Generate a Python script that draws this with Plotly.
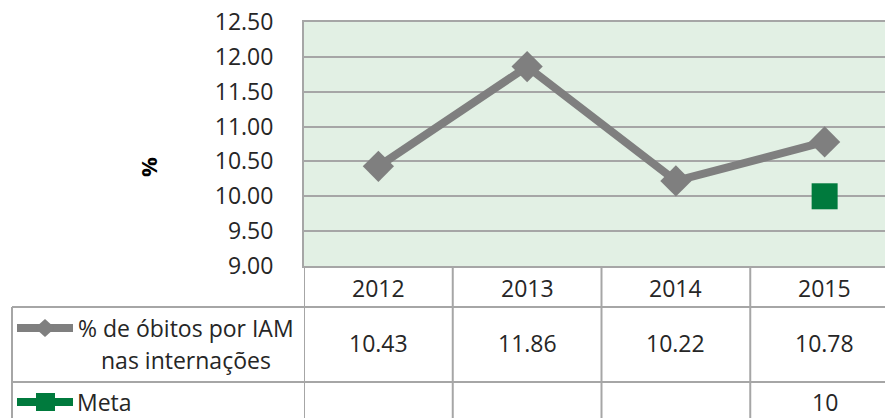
import plotly.graph_objects as go

years = ["2012", "2013", "2014", "2015"]
obitos = [10.43, 11.86, 10.22, 10.78]
meta = [None, None, None, 10]
obitos_labels = ["10.43", "11.86", "10.22", "10.78"]
meta_labels = ["", "", "", "10"]
series_names = ["% de óbitos por IAM", "nas internações"]
meta_name = "Meta"
y_ticks = [9.0, 9.5, 10.0, 10.5, 11.0, 11.5, 12.0, 12.5]

W, H = 885, 418
L, T, B = 304, 22, 152
PW, PH = W - L, H - T - B
GRAY = "#7F7F7F"
GREEN = "#007A3D"
GRID = "#A6A6A6"
TXT = "#262626"
FONT = "Open Sans"
FS = 23

def px(x):
    return (x - L) / PW

def py(y):
    return (H - B - y) / PH

xi = list(range(len(years)))

fig = go.Figure()
fig.add_trace(go.Scatter(x=xi, y=obitos, mode="lines+markers",
                         line=dict(color=GRAY, width=8),
                         marker=dict(symbol="diamond", size=24, color=GRAY),
                         showlegend=False, cliponaxis=False))
fig.add_trace(go.Scatter(x=xi, y=meta, mode="markers",
                         marker=dict(symbol="square", size=26, color=GREEN),
                         showlegend=False, cliponaxis=False))

shapes = []
line_style = dict(color=GRID, width=2)
for yy in [307, 382]:
    shapes.append(dict(type="line", xref="paper", yref="paper",
                       x0=px(12), x1=1.0, y0=py(yy), y1=py(yy), line=line_style))
shapes.append(dict(type="line", xref="paper", yref="paper",
                   x0=px(12), x1=px(12), y0=py(307), y1=py(420), line=line_style))
for i in range(len(years)):
    shapes.append(dict(type="line", xref="x", yref="paper",
                       x0=i - 0.5, x1=i - 0.5, y0=py(266), y1=py(420), line=line_style))

shapes.append(dict(type="line", xref="paper", yref="paper",
                   x0=px(17), x1=px(73), y0=py(328), y1=py(328),
                   line=dict(color=GRAY, width=8)))
cx, cy, hw, hh = 45, 328, 10, 9
shapes.append(dict(type="path", xref="paper", yref="paper",
                   path=f"M {px(cx-hw)},{py(cy)} L {px(cx)},{py(cy-hh)} L {px(cx+hw)},{py(cy)} L {px(cx)},{py(cy+hh)} Z",
                   fillcolor=GRAY, line=dict(width=0)))
shapes.append(dict(type="line", xref="paper", yref="paper",
                   x0=px(17), x1=px(73), y0=py(402), y1=py(402),
                   line=dict(color=GREEN, width=8)))
shapes.append(dict(type="rect", xref="paper", yref="paper",
                   x0=px(36), x1=px(55), y0=py(393), y1=py(411),
                   fillcolor=GREEN, line=dict(width=0)))

ann = []
f = dict(family=FONT, size=FS, color=TXT)
for i, yr in enumerate(years):
    ann.append(dict(x=i, xref="x", y=py(288), yref="paper", text=yr,
                    showarrow=False, font=f, yanchor="middle"))
    ann.append(dict(x=i, xref="x", y=py(343), yref="paper", text=obitos_labels[i],
                    showarrow=False, font=f, yanchor="middle"))
    if meta_labels[i]:
        ann.append(dict(x=i, xref="x", y=py(402), yref="paper", text=meta_labels[i],
                        showarrow=False, font=f, yanchor="middle"))
ann.append(dict(x=px(186), xref="paper", y=py(328), yref="paper", text=series_names[0],
                showarrow=False, font=f, xanchor="center", yanchor="middle"))
ann.append(dict(x=px(186), xref="paper", y=py(360), yref="paper", text=series_names[1],
                showarrow=False, font=f, xanchor="center", yanchor="middle"))
ann.append(dict(x=px(75), xref="paper", y=py(402), yref="paper", text=meta_name,
                showarrow=False, font=f, xanchor="left", yanchor="middle"))
ann.append(dict(x=px(148), xref="paper", y=py(167), yref="paper", text="<b>%</b>",
                showarrow=False, font=dict(family=FONT, size=22, color="#000"),
                textangle=-90, xanchor="center", yanchor="middle"))

fig.update_layout(
    width=W, height=H,
    margin=dict(l=L, r=0, t=T, b=B, pad=0),
    paper_bgcolor="white",
    plot_bgcolor="#E2F0E4",
    shapes=shapes,
    annotations=ann,
    font=f,
    xaxis=dict(range=[-0.5, 3.5 - 14 / 148.7], showticklabels=False, showgrid=False,
               zeroline=False, showline=True, linecolor=GRID, linewidth=2, mirror=True,
               fixedrange=True),
    yaxis=dict(range=[9, 12.5], tickvals=y_ticks, tickformat=".2f", showgrid=True,
               gridcolor=GRID, gridwidth=2, zeroline=False, showline=True,
               linecolor=GRID, linewidth=2, ticks="", ticklabelstandoff=24,
               tickfont=f),
)

fig.write_html("out.html", config={"displayModeBar": False},
               post_script="document.body.style.margin='0';document.body.style.padding='0';")
